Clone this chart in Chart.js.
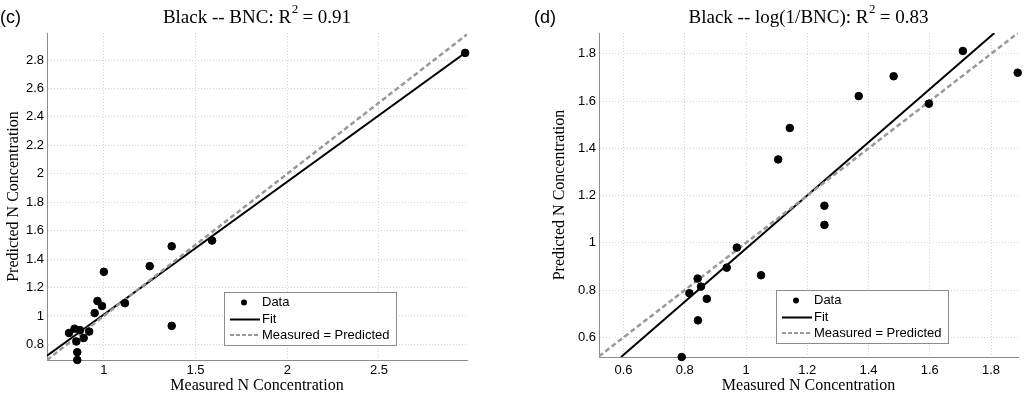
<!DOCTYPE html>
<html>
<head>
<meta charset="utf-8">
<script src="https://cdn.jsdelivr.net/npm/chart.js@4.4.1/dist/chart.umd.min.js"></script>
<style>
  html, body { margin: 0; padding: 0; background: #fff; }
  #wrap { display: flex; width: 1024px; height: 394px; }
  canvas { display: block; }
</style>
</head>
<body>
<div id="wrap">
  <canvas id="bncChart" width="512" height="394"></canvas>
  <canvas id="logChart" width="512" height="394"></canvas>
</div>
<script>
// (c) Black -- BNC
const bncMeasured  = [0.81, 0.84, 0.87, 0.85, 0.855, 0.855, 0.89, 0.92, 0.95, 0.965, 0.99, 1.0, 1.115, 1.25, 1.37, 1.37, 1.59, 2.97];
const bncPredicted = [0.88, 0.91, 0.90, 0.82, 0.745, 0.69, 0.845, 0.89, 1.02, 1.105, 1.07, 1.31, 1.09, 1.35, 1.49, 0.93, 1.53, 2.85];
const bncFitX = [0.69, 2.98];
const bncFitY = [0.72, 2.86];
const bncXTicks = [1, 1.5, 2, 2.5];
const bncYTicks = [0.8, 1, 1.2, 1.4, 1.6, 1.8, 2, 2.2, 2.4, 2.6, 2.8];

// (d) Black -- log(1/BNC)
const logMeasured  = [0.79, 0.815, 0.843, 0.842, 0.853, 0.872, 0.937, 0.97, 1.049, 1.105, 1.143, 1.256, 1.256, 1.368, 1.482, 1.597, 1.708, 1.887];
const logPredicted = [0.517, 0.787, 0.672, 0.849, 0.815, 0.763, 0.895, 0.98, 0.863, 1.353, 1.486, 1.157, 1.076, 1.621, 1.705, 1.589, 1.812, 1.72];
const logFitX = [0.592, 1.811];
const logFitY = [0.517, 1.888];
const logXTicks = [0.6, 0.8, 1, 1.2, 1.4, 1.6, 1.8];
const logYTicks = [0.6, 0.8, 1, 1.2, 1.4, 1.6, 1.8];

const sans = '"Liberation Sans", Arial, sans-serif';
const serif = '"Liberation Serif", "Times New Roman", serif';

// draws panel letter, title with superscript and the legend box
const panelDecor = {
  id: 'panelDecor',
  afterDraw(chart, args, opts) {
    const ctx = chart.ctx;
    const area = chart.chartArea;
    ctx.save();
    ctx.fillStyle = '#000';
    ctx.textBaseline = 'middle';
    ctx.textAlign = 'left';

    ctx.font = '18px ' + sans;
    ctx.fillText(opts.letter, opts.letterX, 18);

    // title: main + superscript + tail
    const mainFont = '19px ' + serif;
    const supFont = '13px ' + serif;
    ctx.font = mainFont;
    const w1 = ctx.measureText(opts.title[0]).width;
    const w3 = ctx.measureText(opts.title[2]).width;
    ctx.font = supFont;
    const w2 = ctx.measureText(opts.title[1]).width;
    let x = (area.left + area.right) / 2 - (w1 + w2 + w3) / 2;
    const ty = 18;
    ctx.font = mainFont;
    ctx.fillText(opts.title[0], x, ty);
    x += w1;
    ctx.font = supFont;
    ctx.fillText(opts.title[1], x + 0.5, ty - 8);
    x += w2;
    ctx.font = mainFont;
    ctx.fillText(opts.title[2], x, ty);

    // legend
    const bw = 172, bh = 53;
    const bx = area.left + 177;
    const by = area.bottom - opts.legendGap - bh;
    ctx.fillStyle = '#fff';
    ctx.fillRect(bx, by, bw, bh);
    ctx.strokeStyle = '#8c8c8c';
    ctx.lineWidth = 1;
    ctx.strokeRect(bx + 0.5, by + 0.5, bw, bh);

    const rows = [by + 10.5, by + 27.5, by + 43];
    ctx.fillStyle = '#000';
    ctx.beginPath();
    ctx.arc(bx + 20, rows[0], 3, 0, Math.PI * 2);
    ctx.fill();

    ctx.strokeStyle = '#000';
    ctx.lineWidth = 2;
    ctx.beginPath();
    ctx.moveTo(bx + 6, rows[1]);
    ctx.lineTo(bx + 36, rows[1]);
    ctx.stroke();

    ctx.strokeStyle = '#999';
    ctx.setLineDash([4, 2]);
    ctx.beginPath();
    ctx.moveTo(bx + 6, rows[2]);
    ctx.lineTo(bx + 36, rows[2]);
    ctx.stroke();
    ctx.setLineDash([]);

    ctx.font = '13px ' + sans;
    ctx.fillStyle = '#000';
    const labels = ['Data', 'Fit', 'Measured = Predicted'];
    labels.forEach((t, i) => ctx.fillText(t, bx + 38, rows[i]));
    ctx.restore();
  }
};

function makePanel(canvasId, cfg) {
  const points = cfg.measured.map((m, i) => ({x: m, y: cfg.predicted[i]}));
  const fit = cfg.fitX.map((v, i) => ({x: v, y: cfg.fitY[i]}));
  const ident = [{x: cfg.range[0], y: cfg.range[0]}, {x: cfg.range[1], y: cfg.range[1]}];

  return new Chart(document.getElementById(canvasId).getContext('2d'), {
    type: 'scatter',
    data: {
      datasets: [{
        label: 'Data',
        data: points,
        backgroundColor: '#000',
        borderColor: '#000',
        pointRadius: 3.8,
        clip: false,
        order: 0
      }, {
        label: 'Fit',
        data: fit,
        showLine: true,
        borderColor: '#000',
        borderWidth: 2,
        pointRadius: 0,
        order: 2
      }, {
        label: 'Measured = Predicted',
        data: ident,
        showLine: true,
        borderColor: '#999',
        borderWidth: 2.5,
        borderDash: [5, 3],
        pointRadius: 0,
        order: 1
      }]
    },
    options: {
      responsive: false,
      animation: false,
      layout: { padding: cfg.padding },
      plugins: {
        legend: { display: false },
        tooltip: { enabled: false },
        panelDecor: cfg.decor
      },
      scales: {
        x: {
          type: 'linear',
          min: cfg.range[0],
          max: cfg.range[1],
          afterBuildTicks: s => { s.ticks = cfg.xTicks.map(v => ({value: v})); },
          afterFit: s => { s.height = cfg.xHeight; },
          ticks: {
            padding: cfg.xTickPad,
            color: '#000',
            font: { family: sans, size: 13 },
            callback: v => String(v)
          },
          grid: { color: '#d4d4d4', drawTicks: false },
          border: { color: '#8c8c8c', width: 1, dash: [1, 2] },
          title: {
            display: true,
            text: 'Measured N Concentration',
            color: '#000',
            font: { family: serif, size: 16, lineHeight: 1 },
            padding: { top: 0, bottom: 0 }
          }
        },
        y: {
          type: 'linear',
          min: cfg.yRange[0],
          max: cfg.yRange[1],
          afterBuildTicks: s => { s.ticks = cfg.yTicks.map(v => ({value: v})); },
          afterFit: s => { s.width = cfg.yWidth; },
          ticks: {
            padding: 3,
            color: '#000',
            font: { family: sans, size: 13 },
            callback: v => String(v)
          },
          grid: { color: '#d4d4d4', drawTicks: false },
          border: { color: '#8c8c8c', width: 1, dash: [1, 2] },
          title: {
            display: true,
            text: 'Predicted N Concentration',
            color: '#000',
            font: { family: serif, size: 16, lineHeight: 1 },
            padding: { top: 6, bottom: 0 }
          }
        }
      }
    },
    plugins: [panelDecor]
  });
}

makePanel('bncChart', {
  measured: bncMeasured, predicted: bncPredicted,
  fitX: bncFitX, fitY: bncFitY,
  range: [0.69, 2.98], yRange: [0.69, 2.99],
  xTicks: bncXTicks, yTicks: bncYTicks,
  padding: { left: 0, right: 45, top: 33, bottom: 0 },
  yWidth: 47, xHeight: 34, xTickPad: 3,
  decor: { letter: '(c)', letterX: 0, title: ['Black -- BNC: R', '2', ' = 0.91'], legendGap: 15 }
});

makePanel('logChart', {
  measured: logMeasured, predicted: logPredicted,
  fitX: logFitX, fitY: logFitY,
  range: [0.52, 1.888], yRange: [0.517, 1.888],
  xTicks: logXTicks, yTicks: logYTicks,
  padding: { left: 34, right: 6, top: 33, bottom: 0 },
  yWidth: 53, xHeight: 37, xTickPad: 6,
  decor: { letter: '(d)', letterX: 22, title: ['Black -- log(1/BNC): R', '2', ' = 0.83'], legendGap: 14 }
});
</script>
</body>
</html>
